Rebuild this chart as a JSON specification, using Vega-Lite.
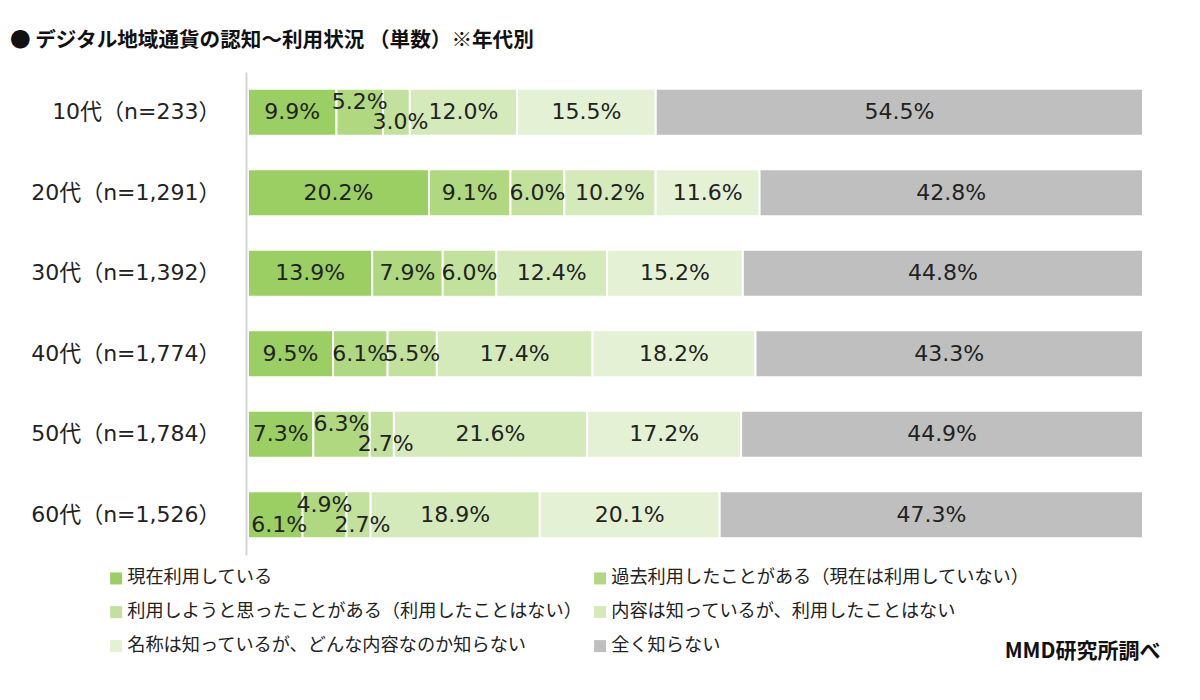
{
  "$schema": "https://vega.github.io/schema/vega-lite/v6.json",
  "width": 895,
  "height": 483,
  "autosize": {"type": "none"},
  "padding": {"left": 248, "top": 72, "right": 57, "bottom": 145},
  "background": "white",
  "config": {"view": {"stroke": null}},
  "title": {
    "text": "●  デジタル地域通貨の認知～利用状況 （単数）※年代別",
    "anchor": "start", "frame": "group", "dx": -238, "offset": 20,
    "font": "Noto Sans CJK JP", "fontSize": 20.6, "fontWeight": "bold", "color": "#111"
  },
  "data": {"values": [
    {"age": "10代（n=233）", "cat": "現在利用している", "k": 1, "v": 9.9},
    {"age": "10代（n=233）", "cat": "過去利用したことがある（現在は利用していない）", "k": 2, "v": 5.2},
    {"age": "10代（n=233）", "cat": "利用しようと思ったことがある（利用したことはない）", "k": 3, "v": 3.0},
    {"age": "10代（n=233）", "cat": "内容は知っているが、利用したことはない", "k": 4, "v": 12.0},
    {"age": "10代（n=233）", "cat": "名称は知っているが、どんな内容なのか知らない", "k": 5, "v": 15.5},
    {"age": "10代（n=233）", "cat": "全く知らない", "k": 6, "v": 54.5},
    {"age": "20代（n=1,291）", "cat": "現在利用している", "k": 1, "v": 20.2},
    {"age": "20代（n=1,291）", "cat": "過去利用したことがある（現在は利用していない）", "k": 2, "v": 9.1},
    {"age": "20代（n=1,291）", "cat": "利用しようと思ったことがある（利用したことはない）", "k": 3, "v": 6.0},
    {"age": "20代（n=1,291）", "cat": "内容は知っているが、利用したことはない", "k": 4, "v": 10.2},
    {"age": "20代（n=1,291）", "cat": "名称は知っているが、どんな内容なのか知らない", "k": 5, "v": 11.6},
    {"age": "20代（n=1,291）", "cat": "全く知らない", "k": 6, "v": 42.8},
    {"age": "30代（n=1,392）", "cat": "現在利用している", "k": 1, "v": 13.9},
    {"age": "30代（n=1,392）", "cat": "過去利用したことがある（現在は利用していない）", "k": 2, "v": 7.9},
    {"age": "30代（n=1,392）", "cat": "利用しようと思ったことがある（利用したことはない）", "k": 3, "v": 6.0},
    {"age": "30代（n=1,392）", "cat": "内容は知っているが、利用したことはない", "k": 4, "v": 12.4},
    {"age": "30代（n=1,392）", "cat": "名称は知っているが、どんな内容なのか知らない", "k": 5, "v": 15.2},
    {"age": "30代（n=1,392）", "cat": "全く知らない", "k": 6, "v": 44.8},
    {"age": "40代（n=1,774）", "cat": "現在利用している", "k": 1, "v": 9.5},
    {"age": "40代（n=1,774）", "cat": "過去利用したことがある（現在は利用していない）", "k": 2, "v": 6.1},
    {"age": "40代（n=1,774）", "cat": "利用しようと思ったことがある（利用したことはない）", "k": 3, "v": 5.5},
    {"age": "40代（n=1,774）", "cat": "内容は知っているが、利用したことはない", "k": 4, "v": 17.4},
    {"age": "40代（n=1,774）", "cat": "名称は知っているが、どんな内容なのか知らない", "k": 5, "v": 18.2},
    {"age": "40代（n=1,774）", "cat": "全く知らない", "k": 6, "v": 43.3},
    {"age": "50代（n=1,784）", "cat": "現在利用している", "k": 1, "v": 7.3},
    {"age": "50代（n=1,784）", "cat": "過去利用したことがある（現在は利用していない）", "k": 2, "v": 6.3},
    {"age": "50代（n=1,784）", "cat": "利用しようと思ったことがある（利用したことはない）", "k": 3, "v": 2.7},
    {"age": "50代（n=1,784）", "cat": "内容は知っているが、利用したことはない", "k": 4, "v": 21.6},
    {"age": "50代（n=1,784）", "cat": "名称は知っているが、どんな内容なのか知らない", "k": 5, "v": 17.2},
    {"age": "50代（n=1,784）", "cat": "全く知らない", "k": 6, "v": 44.9},
    {"age": "60代（n=1,526）", "cat": "現在利用している", "k": 1, "v": 6.1},
    {"age": "60代（n=1,526）", "cat": "過去利用したことがある（現在は利用していない）", "k": 2, "v": 4.9},
    {"age": "60代（n=1,526）", "cat": "利用しようと思ったことがある（利用したことはない）", "k": 3, "v": 2.7},
    {"age": "60代（n=1,526）", "cat": "内容は知っているが、利用したことはない", "k": 4, "v": 18.9},
    {"age": "60代（n=1,526）", "cat": "名称は知っているが、どんな内容なのか知らない", "k": 5, "v": 20.1},
    {"age": "60代（n=1,526）", "cat": "全く知らない", "k": 6, "v": 47.3}
  ]},
  "transform": [
    {"stack": "v", "groupby": ["age"], "sort": [{"field": "k", "order": "ascending"}], "as": ["x0", "x1"], "offset": "normalize"},
    {"calculate": "(datum.x0 + datum.x1) / 2", "as": "mid"},
    {"calculate": "format(datum.v, '.1f') + '%'", "as": "lbl"}
  ],
  "encoding": {
    "y": {
      "field": "age", "type": "nominal", "sort": null,
      "scale": {"paddingInner": 0.415, "paddingOuter": 0.2075},
      "axis": {
        "title": null, "ticks": false, "labelPadding": 26, "offset": 2, "zindex": 1, "labelLimit": 400,
        "labelFont": "DejaVu Sans, Noto Sans CJK JP", "labelFontSize": 22, "labelColor": "#222",
        "domainColor": "#d6d6d6", "domainWidth": 2
      }
    }
  },
  "layer": [
    {
      "mark": {"type": "bar", "stroke": "white", "strokeWidth": 2},
      "encoding": {
        "x": {
          "field": "x0", "type": "quantitative", "scale": {"domain": [0, 1], "nice": false},
          "axis": {
            "title": "MMD研究所調べ", "labels": false, "ticks": false, "domain": false, "grid": false,
            "titleAnchor": "end", "titleAlign": "right", "titleX": 912, "titleY": 96, "titleBaseline": "middle",
            "titleFont": "Noto Sans CJK JP", "titleFontSize": 21, "titleFontWeight": "bold", "titleColor": "#111"
          }
        },
        "x2": {"field": "x1"},
        "color": {
          "field": "cat", "type": "nominal",
          "scale": {
            "domain": ["現在利用している", "過去利用したことがある（現在は利用していない）", "利用しようと思ったことがある（利用したことはない）", "内容は知っているが、利用したことはない", "名称は知っているが、どんな内容なのか知らない", "全く知らない"],
            "range": ["#9BCF63", "#AFD880", "#C2E19C", "#D4EABB", "#E4F1D4", "#BFBFBF"]
          },
          "legend": {
            "orient": "none", "legendX": -141, "legendY": 497, "columns": 2, "direction": "horizontal", "title": null,
            "symbolType": "square", "symbolSize": 144, "symbolStrokeWidth": 0,
            "labelFont": "Noto Sans CJK JP", "labelFontSize": 18.2, "labelColor": "#222", "labelLimit": 700,
            "labelOffset": 2, "rowPadding": 15, "columnPadding": 9, "padding": 0
          }
        }
      }
    },
    {
      "transform": [{"filter": "!((datum.k == 2 || datum.k == 3) && (indexof(datum.age, '10代') == 0 || indexof(datum.age, '50代') == 0 || indexof(datum.age, '60代') == 0)) && !(datum.k == 1 && indexof(datum.age, '60代') == 0)"}],
      "mark": {"type": "text", "font": "DejaVu Sans", "fontSize": 22, "color": "#222", "baseline": "middle"},
      "encoding": {"x": {"field": "mid", "type": "quantitative"}, "text": {"field": "lbl"}}
    },
    {
      "transform": [{"filter": "datum.k == 2 && (indexof(datum.age, '10代') == 0 || indexof(datum.age, '50代') == 0 || indexof(datum.age, '60代') == 0)"}],
      "mark": {"type": "text", "font": "DejaVu Sans", "fontSize": 22, "color": "#222", "baseline": "middle", "dy": -10},
      "encoding": {"x": {"field": "mid", "type": "quantitative"}, "text": {"field": "lbl"}}
    },
    {
      "transform": [{"filter": "(datum.k == 3 && (indexof(datum.age, '10代') == 0 || indexof(datum.age, '50代') == 0 || indexof(datum.age, '60代') == 0)) || (datum.k == 1 && indexof(datum.age, '60代') == 0)"}],
      "mark": {"type": "text", "font": "DejaVu Sans", "fontSize": 22, "color": "#222", "baseline": "middle", "dy": 10, "dx": 4},
      "encoding": {"x": {"field": "mid", "type": "quantitative"}, "text": {"field": "lbl"}}
    }
  ]
}
